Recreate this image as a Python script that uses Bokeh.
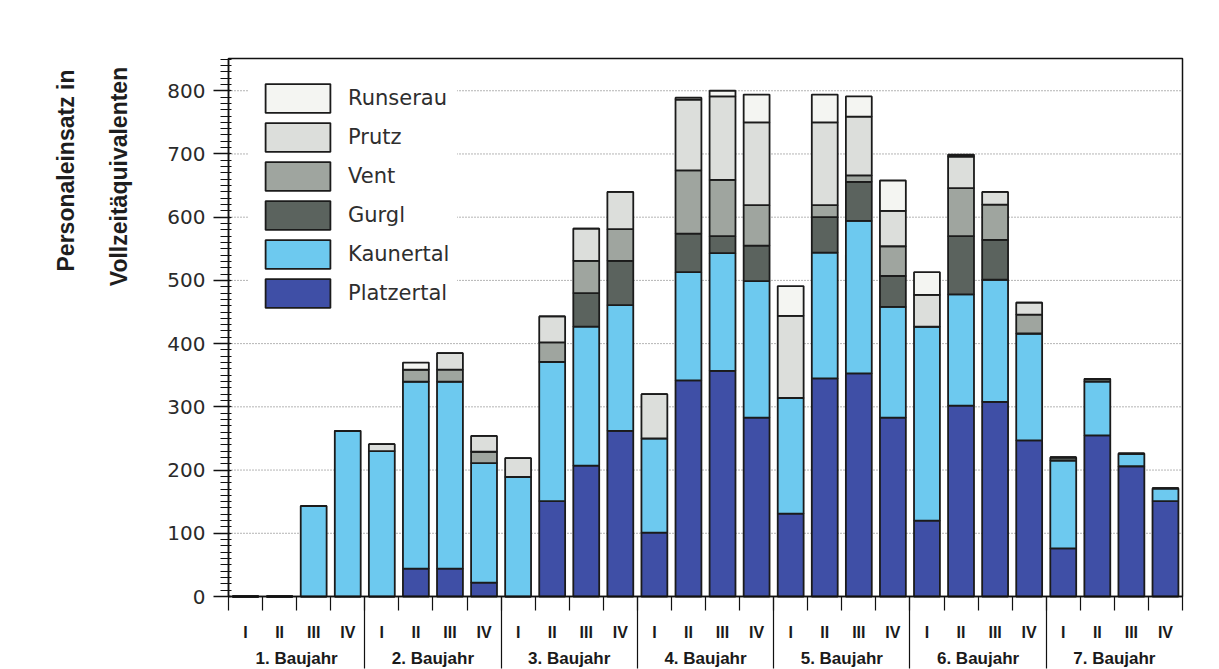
from bokeh.plotting import figure
from bokeh.models import (ColumnDataSource, Range1d, FixedTicker, Legend,
                          LegendItem, Label, LinearAxis)
from bokeh.embed import file_html
from bokeh.resources import INLINE

# ---------------- data ----------------
years = ["1. Baujahr", "2. Baujahr", "3. Baujahr", "4. Baujahr",
         "5. Baujahr", "6. Baujahr", "7. Baujahr"]
quarters = ["I", "II", "III", "IV"]
series = ["Platzertal", "Kaunertal", "Gurgl", "Vent", "Prutz", "Runserau"]

Platzertal = [0, 0, 0, 0,   0, 44, 44, 22,   0, 151, 207, 262,
              101, 342, 357, 283,   131, 345, 353, 283,
              120, 302, 308, 247,   76, 255, 206, 151]
Kaunertal = [0, 0, 143, 262,   230, 296, 296, 189,   189, 220, 220, 199,
             149, 171, 186, 216,   183, 199, 241, 175,
             307, 176, 193, 169,   139, 85, 20, 20]
Gurgl = [0, 0, 0, 0,   0, 0, 0, 0,   0, 0, 53, 70,
         0, 61, 27, 56,   0, 56, 62, 49,
         0, 92, 63, 0,   5, 4, 0, 0]
Vent = [0, 0, 0, 0,   0, 19, 19, 18,   0, 31, 51, 50,
        0, 100, 89, 64,   0, 19, 10, 47,
        0, 76, 56, 30,   0, 0, 0, 0]
Prutz = [0, 0, 0, 0,   11, 0, 26, 25,   30, 41, 51, 59,
         70, 112, 132, 131,   130, 131, 93, 56,
         50, 50, 20, 19,   0, 0, 0, 0]
Runserau = [0, 0, 0, 0,   0, 11, 0, 0,   0, 0, 0, 0,
            0, 3, 9, 44,   47, 44, 32, 48,
            36, 3, 0, 0,   0, 0, 0, 0]

y_ticks = [0, 100, 200, 300, 400, 500, 600, 700, 800]
y_title = ["Personaleinsatz in", "Vollzeitäquivalenten"]

colors = ["#3f4fa6", "#6dc9ef", "#5b635e", "#9fa59f", "#dcdedb", "#f4f5f2"]

# ---------------- geometry (pixels) ----------------
W, H = 1219, 669
PL, PR, PT, PB = 228, 1182, 58, 596      # plot area in canvas pixels
n = len(years) * len(quarters)
X0, X1 = -0.5, n - 0.5
Y0, Y1 = 0, 851
sx = (X1 - X0) / (PR - PL)               # data units per pixel
sy = (Y1 - Y0) / (PB - PT)

xpos = list(range(n))
source = ColumnDataSource(dict(x=xpos, Platzertal=Platzertal, Kaunertal=Kaunertal,
                               Gurgl=Gurgl, Vent=Vent, Prutz=Prutz, Runserau=Runserau))

p = figure(width=W, height=H,
           x_range=Range1d(X0 - PL * sx, X1 + (W - PR) * sx),
           y_range=Range1d(Y0 - (H - PB) * sy, Y1 + PT * sy),
           output_backend="svg", toolbar_location=None,
           x_axis_location=None, y_axis_location=None,
           min_border=0)
p.background_fill_color = "white"
p.border_fill_color = "white"
p.outline_line_color = None
for g in p.grid:
    g.visible = False

# dotted grid lines inside the plot area
grid_y = y_ticks[1:]
p.segment(x0=X0, x1=X1, y0=grid_y, y1=grid_y, line_color="#6a6a6a",
          line_dash="1 2", line_width=1)
# plot-area frame (top and right edges)
p.quad(left=[X0], right=[X1], bottom=[Y0], top=[Y1], fill_color=None,
       line_color="#111111", line_width=1.5)

renderers = p.vbar_stack(series, x="x", width=0.76, source=source,
                         fill_color=colors, line_color="#1b1b1b", line_width=1.8)

# y axis
yax = LinearAxis(fixed_location=X0, bounds=(Y0, Y1),
                 ticker=FixedTicker(ticks=y_ticks, minor_ticks=list(range(0, 851, 10))))
yax.axis_line_color = "#111111"
yax.axis_line_width = 1.5
yax.major_tick_out = 15
yax.major_tick_in = 2
yax.minor_tick_out = 8
yax.minor_tick_in = 3
yax.major_tick_line_color = "#111111"
yax.minor_tick_line_color = "#111111"
yax.major_tick_line_width = 1.5
yax.major_label_standoff = 8
yax.major_label_text_font = "DejaVu Sans"
yax.major_label_text_font_size = "20px"
yax.major_label_text_color = "#2a2a2a"
p.add_layout(yax, "left")

# x axis: short ticks at quarter boundaries, long separators at year boundaries
year_bounds = [4 * k - 0.5 for k in range(1, len(years))]
quarter_bounds = [k - 0.5 for k in range(n + 1)]
xax = LinearAxis(fixed_location=Y0, bounds=(X0, X1),
                 ticker=FixedTicker(ticks=year_bounds, minor_ticks=quarter_bounds))
xax.major_label_overrides = {b: "" for b in year_bounds}
xax.axis_line_color = "#111111"
xax.axis_line_width = 1.5
xax.major_tick_out = 72
xax.major_tick_in = 0
xax.minor_tick_out = 14
xax.minor_tick_in = 0
xax.major_tick_line_color = "#111111"
xax.minor_tick_line_color = "#111111"
xax.major_tick_line_width = 1.2
xax.minor_tick_line_width = 1.2
p.add_layout(xax, "below")

# quarter labels
qax = LinearAxis(fixed_location=Y0, bounds=(X0, X1), ticker=FixedTicker(ticks=xpos, minor_ticks=[]))
qax.major_label_overrides = {i: quarters[i % 4] for i in xpos}
qax.axis_line_color = None
qax.major_tick_line_color = None
qax.major_label_standoff = 21
qax.major_label_text_font = "Liberation Sans"
qax.major_label_text_font_style = "bold"
qax.major_label_text_font_size = "16px"
qax.major_label_text_color = "#1a1a1a"
p.add_layout(qax, "below")

# year labels
year_centers = [4 * k + 1.5 for k in range(len(years))]
yrax = LinearAxis(fixed_location=Y0, bounds=(X0, X1),
                  ticker=FixedTicker(ticks=year_centers, minor_ticks=[]))
yrax.major_label_overrides = {c: t for c, t in zip(year_centers, years)}
yrax.axis_line_color = None
yrax.major_tick_line_color = None
yrax.major_label_standoff = 46
yrax.major_label_text_font = "Liberation Sans"
yrax.major_label_text_font_style = "bold"
yrax.major_label_text_font_size = "17px"
yrax.major_label_text_color = "#1a1a1a"
p.add_layout(yrax, "below")

# y titles (two rotated lines)
for xs, ys, t in [(65, H - 170, y_title[0]), (118, H - 176, y_title[1])]:
    p.add_layout(Label(x=xs, y=ys, x_units="screen", y_units="screen", text=t,
                       angle=90, angle_units="deg", text_align="center",
                       text_baseline="middle", text_font="Liberation Sans",
                       text_font_style="bold", text_font_size="23px",
                       text_color="#1e1e1e"))

# legend
items = [LegendItem(label=name, renderers=[r])
         for name, r in reversed(list(zip(series, renderers)))]
legend = Legend(items=items, location=(249, 350), padding=8, margin=0, spacing=3,
                glyph_width=81, glyph_height=36, label_standoff=10,
                label_height=36, border_line_alpha=0,
                background_fill_color="white", background_fill_alpha=1,
                label_text_font="DejaVu Sans", label_text_font_size="21px",
                label_text_color="#2e2e2e")
p.add_layout(legend)

open("out.html", "w").write(file_html(p, INLINE))
